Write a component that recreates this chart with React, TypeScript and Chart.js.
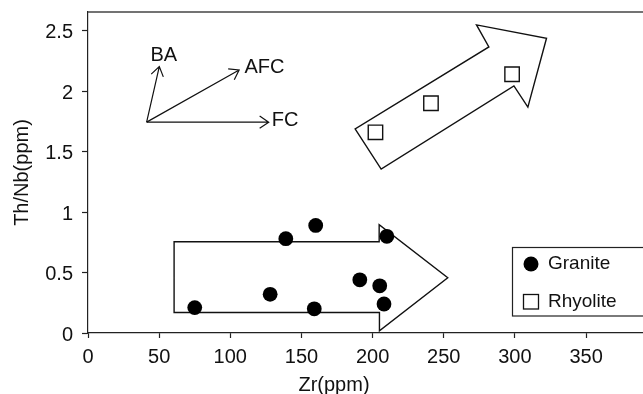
import React, { useEffect, useRef } from "react";
import { Chart, registerables } from "chart.js";

Chart.register(...registerables);

// ---- data ----
const graniteZr = [75, 128, 139, 160, 159, 210, 191, 205, 208];
const graniteThNb = [0.21, 0.32, 0.78, 0.89, 0.2, 0.8, 0.44, 0.39, 0.24];
const rhyoliteZr = [202, 241, 298];
const rhyoliteThNb = [1.66, 1.9, 2.14];
const xTicks = [0, 50, 100, 150, 200, 250, 300, 350];
const yTicks = [0, 0.5, 1, 1.5, 2, 2.5];
const X_MIN = 0;
const X_MAX = 390;
const Y_MIN = 0;
const Y_MAX = 2.655;

// annotation shapes in data units
const graniteTrendArrow = [
  [60.5, 0.755], [204.6, 0.755], [204.6, 0.895], [252.8, 0.457],
  [204.8, 0.019], [204.8, 0.17], [60.5, 0.17],
];
const rhyoliteTrendArrow = [
  [187.7, 1.688], [206.0, 1.356], [299.3, 2.044], [309.1, 1.868],
  [322.2, 2.438], [273.0, 2.548], [281.7, 2.366],
];
const vectorOrigin = [41.2, 1.744];
const vectorTips = [
  { label: "BA", tip: [50.1, 2.203], text: [53.3, 2.292], align: "center" },
  { label: "AFC", tip: [106.2, 2.176], text: [109.9, 2.193], align: "left" },
  { label: "FC", tip: [127.0, 1.744], text: [129.1, 1.756], align: "left" },
];

const FONT = '"Liberation Sans", Arial, sans-serif';

const annotationPlugin = {
  id: "annotations",
  afterLayout(chart: any) {
    // stretch the plot area to the right edge of the canvas
    const ca = chart.chartArea;
    const right = chart.width;
    ca.right = right;
    ca.width = right - ca.left;
    const s = chart.scales.x;
    s.right = right;
    s.width = right - s.left;
    s.configure();
  },
  beforeDatasetsDraw(chart: any) {
    const { ctx, scales } = chart;
    const X = (v: number) => scales.x.getPixelForValue(v);
    const Y = (v: number) => scales.y.getPixelForValue(v);
    ctx.save();
    ctx.strokeStyle = "#111";
    ctx.lineWidth = 1.4;
    ctx.lineJoin = "miter";
    for (const poly of [graniteTrendArrow, rhyoliteTrendArrow]) {
      ctx.beginPath();
      poly.forEach((p, i) => {
        if (i === 0) ctx.moveTo(X(p[0]), Y(p[1]));
        else ctx.lineTo(X(p[0]), Y(p[1]));
      });
      ctx.closePath();
      ctx.stroke();
    }
    // vectors
    const ox = X(vectorOrigin[0]);
    const oy = Y(vectorOrigin[1]);
    ctx.lineWidth = 1.2;
    ctx.fillStyle = "#111";
    ctx.font = `20px ${FONT}`;
    ctx.textBaseline = "middle";
    for (const v of vectorTips) {
      const tx = X(v.tip[0]);
      const ty = Y(v.tip[1]);
      ctx.beginPath();
      ctx.moveTo(ox, oy);
      ctx.lineTo(tx, ty);
      const ang = Math.atan2(ty - oy, tx - ox);
      const hl = 11;
      const ha = 0.6;
      ctx.moveTo(tx - hl * Math.cos(ang - ha), ty - hl * Math.sin(ang - ha));
      ctx.lineTo(tx, ty);
      ctx.lineTo(tx - hl * Math.cos(ang + ha), ty - hl * Math.sin(ang + ha));
      ctx.stroke();
      ctx.textAlign = v.align as CanvasTextAlign;
      ctx.fillText(v.label, X(v.text[0]), Y(v.text[1]));
    }
    ctx.restore();
  },
  afterDraw(chart: any) {
    const { ctx, chartArea } = chart;
    ctx.save();
    // top frame line
    ctx.strokeStyle = "#444";
    ctx.lineWidth = 1.6;
    ctx.beginPath();
    ctx.moveTo(chartArea.left, chartArea.top);
    ctx.lineTo(chartArea.right + 2, chartArea.top);
    ctx.stroke();

    // axis titles
    ctx.fillStyle = "#111";
    ctx.font = `20px ${FONT}`;
    ctx.textAlign = "center";
    ctx.textBaseline = "middle";
    ctx.fillText("Zr(ppm)", 334, 385);
    ctx.save();
    ctx.translate(22, (chartArea.top + chartArea.bottom) / 2);
    ctx.rotate(-Math.PI / 2);
    ctx.fillText("Th/Nb(ppm)", 0, 0);
    ctx.restore();

    // legend
    const lx = 512.5;
    const ly = 247.5;
    ctx.strokeStyle = "#222";
    ctx.lineWidth = 1.2;
    ctx.fillStyle = "#fff";
    ctx.fillRect(lx, ly, 140, 68.5);
    ctx.strokeRect(lx, ly, 140, 68.5);
    ctx.fillStyle = "#000";
    ctx.beginPath();
    ctx.arc(531, 264, 7.5, 0, Math.PI * 2);
    ctx.fill();
    ctx.strokeStyle = "#111";
    ctx.lineWidth = 1.3;
    ctx.strokeRect(523.5, 294.5, 15, 14.5);
    ctx.fillStyle = "#111";
    ctx.font = `19px ${FONT}`;
    ctx.textAlign = "left";
    ctx.fillText("Granite", 548, 263.5);
    ctx.fillText("Rhyolite", 548, 301.5);
    ctx.restore();
  },
};

export default function App() {
  const ref = useRef<HTMLCanvasElement | null>(null);
  useEffect(() => {
    document.body.style.margin = "0";
    if (!ref.current) return;
    const chart = new Chart(ref.current, {
      type: "scatter",
      data: {
        datasets: [
          {
            label: "Granite",
            data: graniteZr.map((x, i) => ({ x, y: graniteThNb[i] })),
            pointStyle: "circle",
            pointRadius: 7.4,
            backgroundColor: "#000",
            borderColor: "#000",
            borderWidth: 0,
          },
          {
            label: "Rhyolite",
            data: rhyoliteZr.map((x, i) => ({ x, y: rhyoliteThNb[i] })),
            pointStyle: "rect",
            pointRadius: 10.2,
            backgroundColor: "#fff",
            borderColor: "#111",
            borderWidth: 1.4,
          },
        ],
      },
      options: {
        responsive: false,
        animation: false,
        devicePixelRatio: 1,
        layout: { padding: { top: 12, left: 0, right: 0, bottom: 0 } },
        plugins: { legend: { display: false }, tooltip: { enabled: false } },
        scales: {
          x: {
            type: "linear",
            min: X_MIN,
            max: X_MAX,
            afterBuildTicks: (s: any) => {
              s.ticks = xTicks.map((v) => ({ value: v }));
              s.min = X_MIN;
              s.max = X_MAX;
            },
            afterFit: (s: any) => {
              s.height = 61;
              s.paddingLeft = 0;
              s.paddingRight = 0;
              s.paddingTop = 0;
              s.paddingBottom = 0;
            },
            grid: { drawOnChartArea: false, drawTicks: true, tickLength: 5, color: "#222", tickWidth: 1.2 },
            border: { display: true, color: "#222", width: 1.2 },
            ticks: {
              color: "#111",
              font: { family: FONT, size: 20 },
              padding: 7,
              maxRotation: 0,
              autoSkip: false,
            },
          },
          y: {
            type: "linear",
            min: Y_MIN,
            max: Y_MAX,
            afterBuildTicks: (s: any) => {
              s.ticks = yTicks.map((v) => ({ value: v }));
              s.min = Y_MIN;
              s.max = Y_MAX;
            },
            afterFit: (s: any) => {
              s.width = 88;
              s.paddingLeft = 0;
              s.paddingRight = 0;
              s.paddingTop = 0;
              s.paddingBottom = 0;
            },
            grid: { drawOnChartArea: false, drawTicks: true, tickLength: 6, color: "#222", tickWidth: 1.2 },
            border: { display: true, color: "#222", width: 1.2 },
            ticks: {
              color: "#111",
              font: { family: FONT, size: 20 },
              padding: 9,
              labelOffset: 2,
              autoSkip: false,
              callback: (v: any) => String(Number(v)),
            },
          },
        },
      },
      plugins: [annotationPlugin],
    });
    return () => chart.destroy();
  }, []);
  return <canvas ref={ref} width={643} height={394} style={{ display: "block" }} />;
}
